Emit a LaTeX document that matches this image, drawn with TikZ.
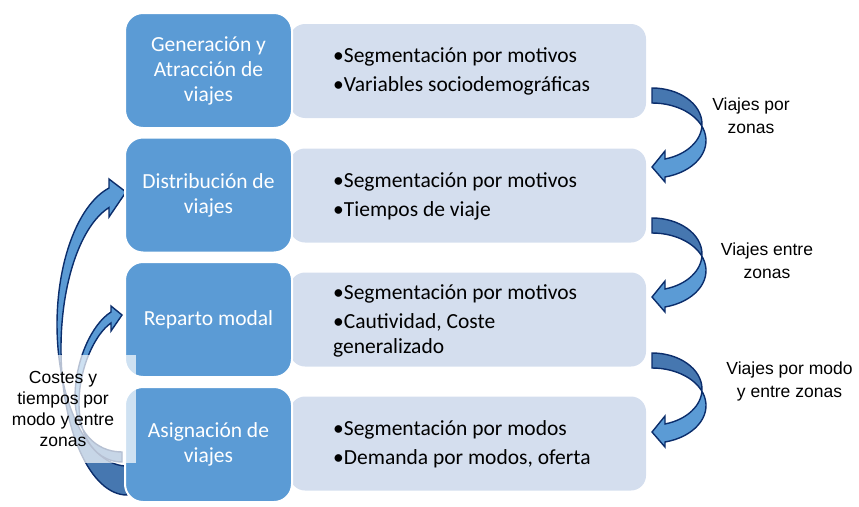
\documentclass[tikz,border=0pt]{standalone}
\usepackage{fontspec}
\setmainfont{Carlito}
\newfontfamily\arialf{Liberation Sans}
\definecolor{boxblue}{HTML}{5B9BD5}
\definecolor{lightfill}{HTML}{D4DEEE}
\definecolor{navy}{HTML}{0B2D6B}
\definecolor{darkband}{HTML}{4677B0}
\begin{document}
\begin{tikzpicture}[x=1pt,y=-1pt,
 bluebox/.style={draw=white, line width=2pt, fill=boxblue, rounded corners=18pt,
   minimum width=167pt, minimum height=115pt, text=white, align=center,
   font=\fontsize{21.5}{25}\selectfont, inner sep=0pt},
 lightbox/.style={fill=lightfill, rounded corners=15pt, minimum width=356pt,
   minimum height=94pt, inner sep=0pt},
 bullettext/.style={anchor=west, align=left, font=\fontsize{21.5}{25}\selectfont, inner sep=0pt},
 labeltext/.style={align=center, inner sep=0pt},
 arrowfront/.style={fill=boxblue},
 arrowback/.style={fill=darkband},
 arrowline/.style={draw=navy, line width=1.4pt, line join=miter}
]
\useasboundingbox (0,0) rectangle (859,506);

% light boxes
\node[lightbox] (d1) at (468,71) {};
\node[lightbox] (d2) at (468,195.5) {};
\node[lightbox] (d3) at (468,319.5) {};
\node[lightbox] (d4) at (468,443.5) {};

% right curved arrows
\def\rarrowpath{(652,88) arc[start angle=270, end angle=434.9, x radius=50, y radius=36.1]
  -- (665,151) -- (652,167) -- (665,182) -- (665,177)
  arc[start angle=436.07, end angle=270, x radius=54, y radius=37.55] -- cycle}
\foreach \dy in {0,130,265} {
  \begin{scope}[shift={(0,\dy)}]
    \fill[arrowfront] \rarrowpath;
    \begin{scope}
      \clip (640,80) rectangle (720,127);
      \fill[arrowback] \rarrowpath;
    \end{scope}
    \draw[arrowline] \rarrowpath;
  \end{scope}
}

% left curved arrows
\def\bigpath{(109,188) arc[start angle=255.07, end angle=90, x radius=70, y radius=141.4]
  -- (127,495) arc[start angle=90, end angle=254.2, x radius=66, y radius=146.5]
  -- (109,217) -- (126,192) -- (109,179) -- cycle}
\def\smallpath{(111,312) .. controls (92,324) and (75,360) .. (75,398)
  .. controls (75,430) and (95,452) .. (122,452) -- (122,462)
  .. controls (98,462) and (79,440) .. (79,403)
  .. controls (79,368) and (95,334) .. (111,323)
  -- (111,331) -- (122,315) -- (111,306) -- cycle}
\fill[arrowfront] \bigpath;
\begin{scope}
  \clip (30,380) rectangle (140,505);
  \fill[arrowback] \bigpath;
\end{scope}
\draw[arrowline] \bigpath;
\fill[arrowfront] \smallpath;
\begin{scope}
  \clip (30,430) rectangle (140,505);
  \fill[arrowback] \smallpath;
\end{scope}
\draw[arrowline] \smallpath;

% blue boxes
\node[bluebox] (b1) at (208.5,70.5) {Generación y\\Atracción de\\viajes};
\node[bluebox] (b2) at (208.5,195) {Distribución de\\viajes};
\node[bluebox] (b3) at (208.5,319.5) {Reparto modal};
\node[bluebox] (b4) at (208.5,444.5) {Asignación de\\viajes};

% bullet texts
\node[bullettext] (t1) at (333,71.5) {•Segmentación por motivos\\[4pt]•Variables sociodemográficas};
\node[bullettext] (t2) at (333,196.5) {•Segmentación por motivos\\[4pt]•Tiempos de viaje};
\node[bullettext] (t3) at (333,320.7) {•Segmentación por motivos\\[4pt]•Cautividad, Coste\\generalizado};
\node[bullettext] (t4) at (333,444.5) {•Segmentación por modos\\[4pt]•Demanda por modos, oferta};

% translucent label box
\fill[white, opacity=0.7] (0,355) rectangle (136,463);
\node[labeltext, font=\arialf\fontsize{17.5}{20.7}\selectfont] (cost) at (63,409) {Costes y\\tiempos por\\modo y entre\\zonas};

% right labels
\node[labeltext, font=\arialf\fontsize{17.5}{23}\selectfont] (lab1) at (751,116) {Viajes por\\zonas};
\node[labeltext, font=\arialf\fontsize{17.5}{23}\selectfont] (lab2) at (767,260.5) {Viajes entre\\zonas};
\node[labeltext, font=\arialf\fontsize{17.5}{23}\selectfont] (lab3) at (789.5,381) {Viajes por modo\\y entre zonas};
\end{tikzpicture}
\end{document}
